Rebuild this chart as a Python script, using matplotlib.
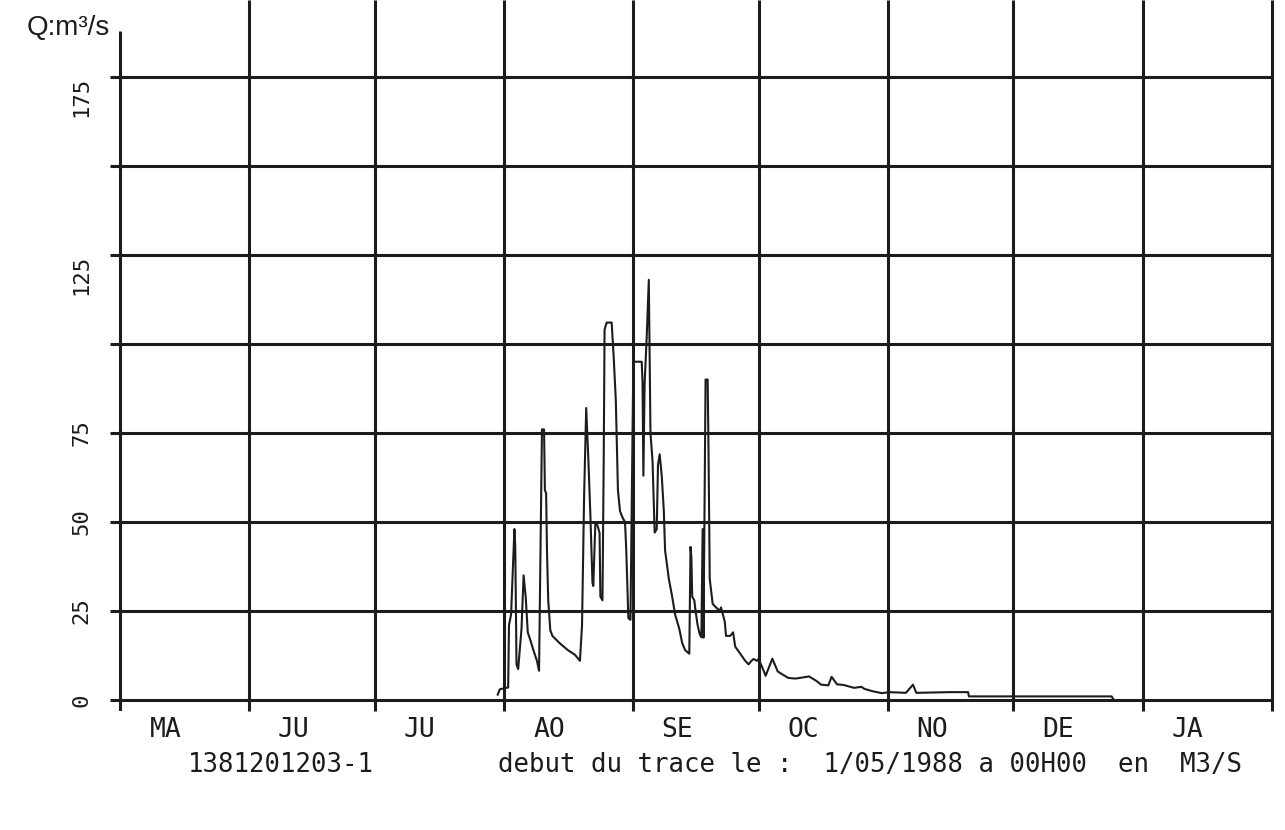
import matplotlib.pyplot as plt

# debit journalier (m3/s), jours comptes depuis le 1/05/1988
months = ['MA', 'JU', 'JU', 'AO', 'SE', 'OC', 'NO', 'DE', 'JA']
month_starts = [0, 31, 61, 92, 123, 153, 184, 214, 245, 276]
levels = [0, 25, 50, 75, 100, 125, 150, 175]
level_labels = {0: '0', 25: '25', 50: '50', 75: '75', 125: '125', 175: '175'}

days = [90.5, 91.0, 93.0, 93.2, 93.7, 94.5, 94.7, 95.0, 95.4, 96.2, 96.7, 97.2, 97.7, 98.4, 99.1, 99.9, 100.4,
        101.1, 101.6, 101.8, 102.1, 102.3, 102.6, 103.1, 103.6, 105.3, 107.3, 109.0, 110.2, 110.7, 111.2, 111.7,
        112.2, 112.7, 113.2, 113.4, 113.9, 114.4, 114.9, 115.1, 115.6, 115.9, 116.1, 116.6, 117.8, 118.3, 118.8,
        119.3, 119.8, 120.5, 121.0, 121.3, 121.8, 122.3, 123.0, 125.0, 125.2, 125.4, 125.7, 126.2, 126.7, 127.1,
        127.6, 128.1, 128.6, 128.9, 129.3, 129.8, 130.3, 130.6, 131.5, 132.3, 133.0, 134.0, 134.7, 135.4, 136.4,
        136.7, 136.9, 137.1, 137.6, 137.9, 138.4, 138.9, 139.3, 139.6, 139.8, 140.3, 140.8, 141.0, 141.3, 142.0,
        142.8, 143.7, 144.0, 144.9, 145.2, 146.2, 146.9, 147.4, 148.6, 149.8, 150.6, 151.3, 151.8, 152.6, 153.0,
        153.8, 154.7, 156.3, 157.6, 158.4, 160.1, 161.8, 163.4, 165.1, 166.8, 168.0, 169.7, 170.5, 171.8, 173.4,
        175.9, 177.6, 178.4, 180.5, 182.6, 184.2, 188.3, 190.0, 190.8, 199.0, 203.2, 203.4, 214.0, 237.6, 238.1]
flows = [1.5, 3, 3.5, 21, 24, 48, 43, 10, 8.7, 20, 35, 29, 19, 16.5, 13.8, 11, 8.2,
         76, 76, 59, 58, 42, 28, 19.6, 18, 16, 14, 12.7, 11, 21, 57.5, 82,
         68, 52, 33, 32, 50, 49, 47, 29, 28, 68, 104, 106, 106, 96, 84,
         59, 53, 51, 50, 42, 23, 22.5, 95, 95, 89, 63, 89, 102, 118, 75,
         67, 47, 48, 66, 69, 63, 53, 42, 34, 29, 24, 20, 16, 14, 13,
         43, 40, 29, 28, 25, 21, 18.5, 17.6, 48, 17.5, 90, 90, 71, 34, 27,
         26, 25, 26, 22, 18, 18, 19, 15, 13, 11, 10, 11, 11.5, 11, 11.5,
         9.4, 6.8, 11.6, 8, 7.4, 6.2, 6, 6.3, 6.6, 5.4, 4.3, 4.1, 6.5, 4.4, 4.2,
         3.4, 3.7, 3.1, 2.4, 1.9, 2.2, 2, 4.3, 2, 2.2, 2.2, 1, 1, 1, 0]

ink = '#1c1c1c'
mono = ['DejaVu Sans Mono']

fig = plt.figure(figsize=(12.85, 8.3), dpi=100)
ax = fig.add_axes([110 / 1285, 1 - 711 / 830, 1164 / 1285, 711 / 830])
ax.set_xlim(-2.4, 276.5)
ax.set_ylim(-3.1, 196.6)
ax.axis('off')

# grille
ax.hlines(levels, -2.4, month_starts[-1], color=ink, lw=2.2)
ax.vlines(month_starts[1:], -3.1, 196.6, color=ink, lw=2.2, clip_on=False)
ax.vlines(month_starts[0], -3.1, 188, color=ink, lw=2.2)

# hydrogramme
ax.plot(days, flows, color=ink, lw=1.5)

for lev, lab in level_labels.items():
    ax.text(-9.3, lev, lab, rotation=90, ha='center',
            va='top' if len(lab) == 3 else 'center',
            fontsize=16, family=mono, color=ink, clip_on=False)

for i, m in enumerate(months):
    x = month_starts[i] + 0.35 * (month_starts[i + 1] - month_starts[i])
    ax.text(x, -4.7, m, ha='center', va='top', fontsize=19, family=mono, color=ink)

ax.text(90.6, -14.6, 'debut du trace le :  1/05/1988 a 00H00  en  M3/S',
        ha='left', va='top', fontsize=18.5, family=mono, color=ink)
ax.text(16.3, -14.6, '1381201203-1', ha='left', va='top', fontsize=18.5, family=mono, color=ink)

ax.text(0, 1 - 28 / 711, 'Q:m³/s', transform=ax.transAxes, ha='right', va='center',
        fontsize=20, family=['Liberation Sans', 'DejaVu Sans'], color=ink)

fig.savefig('out.png', dpi=100)
